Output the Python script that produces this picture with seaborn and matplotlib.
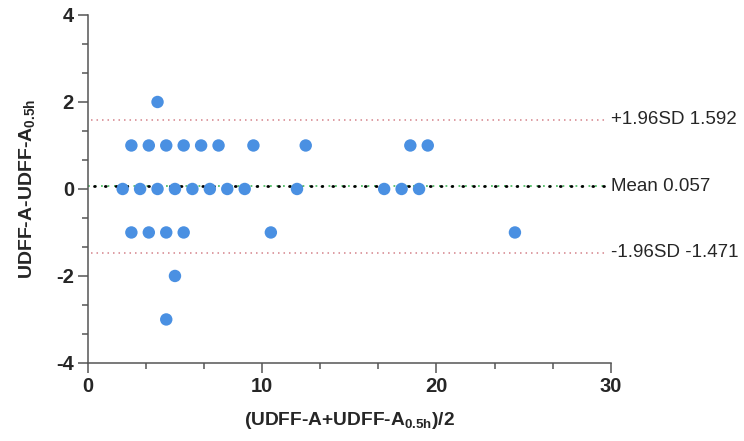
import matplotlib
matplotlib.use("Agg")
import matplotlib.pyplot as plt
import seaborn as sns
import pandas as pd
from matplotlib.ticker import MultipleLocator

# Bland-Altman points
avg_vals = [4.0,
            2.5, 3.5, 4.5, 5.5, 6.5, 7.5, 9.5, 12.5, 18.5, 19.5,
            2.0, 3.0, 4.0, 5.0, 6.0, 7.0, 8.0, 9.0, 12.0, 17.0, 18.0, 19.0,
            2.5, 3.5, 4.5, 5.5, 10.5, 24.5,
            5.0,
            4.5]
diff_vals = [2,
             1, 1, 1, 1, 1, 1, 1, 1, 1, 1,
             0, 0, 0, 0, 0, 0, 0, 0, 0, 0, 0, 0,
             -1, -1, -1, -1, -1, -1,
             -2,
             -3]
mean_diff = 0.057
upper_loa = 1.592
lower_loa = -1.471

df = pd.DataFrame({"avg": avg_vals, "diff": diff_vals})

sns.set_style("ticks")
plt.rcParams["font.family"] = ["Liberation Sans", "DejaVu Sans"]
plt.rcParams["mathtext.fontset"] = "custom"
plt.rcParams["mathtext.rm"] = "Liberation Sans:bold"
plt.rcParams["mathtext.default"] = "rm"
plt.rcParams["axes.unicode_minus"] = False

fig = plt.figure(figsize=(7.44, 4.41), dpi=100)
ax = fig.add_axes([0.118, 0.177, 0.703, 0.789])

# limit and mean lines
ax.plot([0.2, 29.7], [upper_loa, upper_loa], color="#d4828a", lw=1.1,
        linestyle=(0, (1, 2.6)), zorder=1)
ax.plot([0.2, 29.7], [lower_loa, lower_loa], color="#d4828a", lw=1.1,
        linestyle=(0, (1, 2.6)), zorder=1)
ax.plot([0, 29.7], [mean_diff, mean_diff], color="#4fbf66", lw=1.3,
        linestyle=(0, (1, 2.6)), zorder=1)
ax.plot([0.35, 29.7], [mean_diff, mean_diff], color="black", lw=2.0,
        linestyle=(0, (0.3, 3.6)), dash_capstyle="round", zorder=2)

sns.scatterplot(data=df, x="avg", y="diff", ax=ax, s=80, color="#4a90e2",
                edgecolor="none", zorder=3, clip_on=False)

ax.text(30.0, upper_loa, "+1.96SD 1.592", fontsize=13.5, va="center", ha="left")
ax.text(30.0, mean_diff, "Mean 0.057", fontsize=13.5, va="center", ha="left")
ax.text(30.0, lower_loa, "-1.96SD -1.471", fontsize=13.5, va="center", ha="left")

ax.set_xlim(0, 30)
ax.set_ylim(-4, 4)
ax.xaxis.set_major_locator(MultipleLocator(10))
ax.xaxis.set_minor_locator(MultipleLocator(10 / 3))
ax.yaxis.set_major_locator(MultipleLocator(2))
ax.yaxis.set_minor_locator(MultipleLocator(2 / 3))

for s in ["top", "right"]:
    ax.spines[s].set_visible(False)
for s in ["left", "bottom"]:
    ax.spines[s].set_color("#555555")
    ax.spines[s].set_linewidth(1.1)

ax.tick_params(which="major", length=7, width=1.1, color="#555555",
               labelsize=14.5, pad=3)
ax.tick_params(which="minor", length=4, width=1.1, color="#555555")
for lab in ax.get_xticklabels() + ax.get_yticklabels():
    lab.set_fontweight("bold")

ax.set_xlabel("(UDFF-A+UDFF-A$_{0.5h}$)/2", fontsize=13.8, fontweight="bold",
              labelpad=10)
ax.set_ylabel("UDFF-A-UDFF-A$_{0.5h}$", fontsize=14, fontweight="bold",
              labelpad=14)

fig.savefig("out.png", dpi=100)
